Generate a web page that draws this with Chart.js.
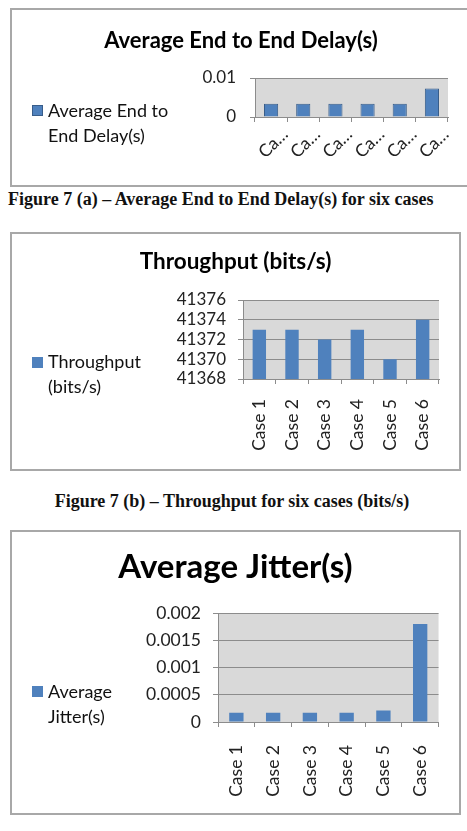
<!DOCTYPE html>
<html>
<head>
<meta charset="utf-8">
<script src="https://cdn.jsdelivr.net/npm/chart.js@4/dist/chart.umd.min.js"></script>
<style>
  html,body{margin:0;padding:0;background:#fff;}
  body{width:467px;height:831px;position:relative;overflow:hidden;font-family:Lato, "Open Sans", sans-serif;}
  .box{position:absolute;border:2px solid #a8a8a8;box-sizing:border-box;}
  canvas{position:absolute;}
  .leg{position:absolute;font-family:Lato, sans-serif;font-size:18px;color:#111;line-height:25px;white-space:nowrap;}
  .sw{position:absolute;width:11px;height:11px;background:#4F81BD;}
  .sw.b{border:1px solid #385D8A;box-sizing:border-box;}
  .cap{position:absolute;font-family:"Liberation Serif","Times New Roman",serif;font-weight:bold;font-size:18px;line-height:21px;color:#111;white-space:nowrap;}
</style>
</head>
<body>
<div class="box" style="left:10px;top:8px;width:462px;height:179px;"></div>
<canvas id="c1" width="462" height="179" style="left:10px;top:8px;"></canvas>
<div class="sw b" style="left:32px;top:105px;"></div>
<div class="leg" style="left:48px;top:97.5px;">Average End to<br>End Delay(s)</div>
<div class="cap" style="left:8px;top:188.5px;">Figure 7 (a) – Average End to End Delay(s) for six cases</div>

<div class="box" style="left:10px;top:232px;width:451px;height:239px;"></div>
<canvas id="c2" width="451" height="239" style="left:10px;top:232px;"></canvas>
<div class="sw" style="left:32px;top:357px;"></div>
<div class="leg" style="left:48px;top:349px;">Throughput<br>(bits/s)</div>
<div class="cap" style="left:0;width:464px;text-align:center;top:490.5px;">Figure 7 (b) – Throughput for six cases (bits/s)</div>

<div class="box" style="left:10px;top:530px;width:451px;height:285px;"></div>
<canvas id="c3" width="451" height="285" style="left:10px;top:530px;"></canvas>
<div class="sw" style="left:32px;top:686px;"></div>
<div class="leg" style="left:48px;top:678.5px;">Average<br>Jitter(s)</div>

<script>
const categories = ['Case 1', 'Case 2', 'Case 3', 'Case 4', 'Case 5', 'Case 6'];
const delayValues = [0.0034, 0.0034, 0.0034, 0.0034, 0.0034, 0.0073];
const throughputValues = [41373, 41373, 41372, 41373, 41370, 41374];
const jitterValues = [0.00017, 0.00017, 0.00017, 0.00017, 0.00021, 0.0018];
const delayTicks = [0, 0.01];
const throughputTicks = [41368, 41370, 41372, 41374, 41376];
const jitterTicks = [0, 0.0005, 0.001, 0.0015, 0.002];

const plotBg = {
  id: 'plotBg',
  beforeDraw(chart) {
    const { ctx, chartArea: a } = chart;
    ctx.save();
    ctx.fillStyle = '#D9D9D9';
    ctx.fillRect(a.left, a.top, a.right - a.left, a.bottom - a.top);
    ctx.restore();
  }
};

function makeChart(id, cfg) {
  const ticksArr = cfg.ticks;
  new Chart(document.getElementById(id), {
    type: 'bar',
    data: {
      labels: categories,
      datasets: [{
        label: cfg.label,
        data: cfg.values,
        backgroundColor: '#4F81BD',
        borderColor: cfg.border ? '#385D8A' : '#4F81BD',
        borderWidth: cfg.border ? 1 : 0,
        barPercentage: cfg.barPct,
        categoryPercentage: 1,
        yAxisID: 'y'
      }]
    },
    plugins: [plotBg],
    options: {
      responsive: false,
      animation: false,
      devicePixelRatio: 1,
      layout: { padding: 0 },
      plugins: {
        legend: { display: false },
        tooltip: { enabled: false },
        title: {
          display: true,
          text: cfg.title,
          color: '#000',
          font: { family: 'Lato', weight: 'bold', size: cfg.titleSize, lineHeight: 1.2 },
          padding: { top: cfg.titleTop, bottom: cfg.titleBottom }
        }
      },
      scales: {
        x: {
          grid: { display: true, offset: true, drawOnChartArea: false, drawTicks: true, tickLength: 5, color: '#8c8c8c' },
          border: { display: true, color: '#8c8c8c', width: 1 },
          ticks: {
            autoSkip: false,
            minRotation: cfg.rot, maxRotation: cfg.rot,
            padding: cfg.xPad,
            labelOffset: cfg.xOff,
            color: '#222',
            font: { family: 'Lato', size: cfg.xSize },
            callback: cfg.xLabel
          },
          afterFit(s) { s.height = cfg.xHeight; }
        },
        y: {
          position: 'left',
          min: ticksArr[0],
          max: ticksArr[ticksArr.length - 1],
          afterBuildTicks(s) { s.ticks = ticksArr.map(v => ({ value: v })); },
          grid: { color: '#8c8c8c', lineWidth: 1, drawTicks: true, tickLength: 5 },
          border: { display: true, color: '#8c8c8c', width: 1 },
          ticks: {
            autoSkip: false,
            padding: cfg.yPad,
            color: '#222',
            font: { family: 'Lato', size: cfg.ySize },
            callback: v => String(Number(v.toFixed(6)))
          },
          afterFit(s) { s.width = cfg.yWidth; }
        },
        yRightSpace: {
          position: 'right',
          display: true,
          grid: { display: false, drawTicks: false },
          border: { display: false },
          ticks: { display: false },
          afterFit(s) { s.width = cfg.padRight; }
        }
      }
    }
  });
}

makeChart('c1', {
  label: 'Average End to End Delay(s)', values: delayValues, ticks: delayTicks,
  title: 'Average End to End Delay(s)', titleSize: 22, titleTop: 19.8, titleBottom: 23.8,
  border: true, barPct: 0.44, padRight: 24, yWidth: 245, yPad: 14, ySize: 17,
  xHeight: 70, rot: 45, xPad: 2, xOff: 14, xSize: 17.5,
  xLabel: (v, i) => categories[i].slice(0, 2) + '…'
});

makeChart('c2', {
  label: 'Throughput (bits/s)', values: throughputValues, ticks: throughputTicks,
  title: 'Throughput (bits/s)', titleSize: 22.5, titleTop: 16, titleBottom: 25,
  border: false, barPct: 0.41, padRight: 22, yWidth: 233, yPad: 12, ySize: 17,
  xHeight: 92, rot: 90, xPad: 15, xOff: 0, xSize: 17.5,
  xLabel: (v, i) => categories[i]
});

makeChart('c3', {
  label: 'Average Jitter(s)', values: jitterValues, ticks: jitterTicks,
  title: 'Average Jitter(s)', titleSize: 33, titleTop: 17.2, titleBottom: 26.2,
  border: false, barPct: 0.39, padRight: 22, yWidth: 208, yPad: 12, ySize: 17.5,
  xHeight: 93, rot: 90, xPad: 18, xOff: 0, xSize: 17.5,
  xLabel: (v, i) => categories[i]
});
</script>
</body>
</html>
